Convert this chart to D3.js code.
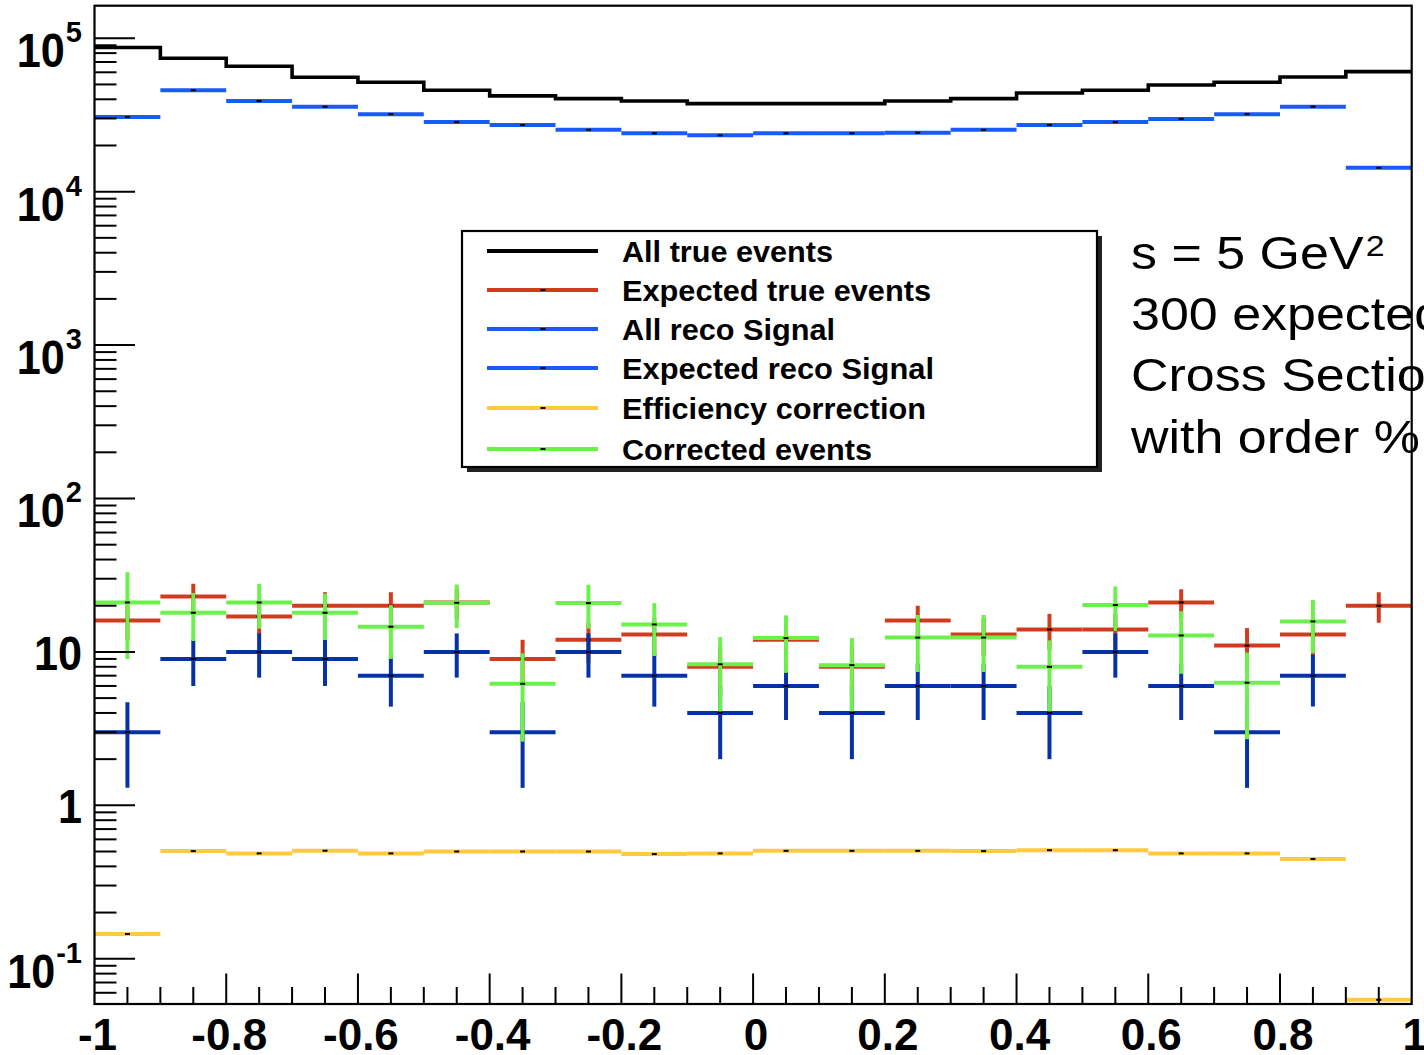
<!DOCTYPE html>
<html>
<head>
<meta charset="utf-8">
<script src="https://cdn.jsdelivr.net/npm/d3@7"></script>
<style>
  html, body { margin: 0; padding: 0; background: #fff; }
  svg { display: block; }
</style>
</head>
<body>
<svg id="chart" width="1424" height="1055"></svg>
<script>
// Bin edges in cos(theta): 20 bins of width 0.1
const binEdges = [-1.0, -0.9, -0.8, -0.7, -0.6, -0.5, -0.4, -0.3, -0.2, -0.1, 0.0,
                  0.1, 0.2, 0.3, 0.4, 0.5, 0.6, 0.7, 0.8, 0.9, 1.0];

// All true events (generator level, full sample)
const allTrue = [87000, 74000, 65700, 55700, 51700, 45800, 42100, 40400, 39000, 37500,
                 37500, 37500, 39000, 40400, 44000, 45800, 49600, 51700, 55900, 60600];

// All reconstructed signal (full sample)
const allReco = [30700, 45800, 39000, 35800, 32000, 28400, 27200, 25300, 24000, 23300,
                 24000, 24000, 24200, 25300, 27200, 28400, 29800, 32000, 35800, 14300];

// Expected true events (300 event sample)
const expTrue    = [16, 23, 17, 20, 20, 21, 9, 12, 13, 8, 12, 8, 16, 13, 14, 14, 21, 11, 13, 20];
const expTrueErr = [4.0, 4.8, 4.1, 4.5, 4.5, 4.6, 3.0, 3.5, 3.6, 2.8, 3.5, 2.8, 4.0, 3.6, 3.7, 3.7, 4.6, 3.3, 3.6, 4.5];

// Expected reconstructed signal
const expReco    = [3, 9, 10, 9, 7, 10, 3, 10, 7, 4, 6, 4, 6, 6, 4, 10, 6, 3, 7, null];
const expRecoErr = [1.7, 3.0, 3.2, 3.0, 2.6, 3.2, 1.7, 3.2, 2.6, 2.0, 2.4, 2.0, 2.4, 2.4, 2.0, 3.2, 2.4, 1.7, 2.6, null];

// Efficiency correction per bin
const efficiency = [0.145, 0.503, 0.486, 0.506, 0.486, 0.500, 0.500, 0.500, 0.481, 0.486,
                    0.505, 0.505, 0.505, 0.503, 0.510, 0.510, 0.486, 0.486, 0.447, 0.054];

// Efficiency-corrected events
const corrected    = [21.0, 18.0, 21.0, 18.0, 14.6, 20.9, 6.2, 20.8, 15.1, 8.3, 12.3, 8.2, 12.4, 12.4, 8.0, 20.2, 12.8, 6.3, 15.8, null];
const correctedErr = [12.0, 6.2, 6.8, 6.0, 5.6, 6.6, 3.6, 6.6, 5.7, 4.2, 5.0, 4.1, 5.0, 5.0, 3.9, 6.5, 5.6, 3.6, 6.0, null];

// Axis labels
const xTickValues = [-1, -0.8, -0.6, -0.4, -0.2, 0, 0.2, 0.4, 0.6, 0.8, 1];
const xTickLabels = ["-1", "-0.8", "-0.6", "-0.4", "-0.2", "0", "0.2", "0.4", "0.6", "0.8", "1"];
const yDecades   = [0.1, 1, 10, 100, 1000, 10000, 100000];
const yBaseText  = ["10", "1", "10", "10", "10", "10", "10"];
const yExpText   = ["-1", null, null, "2", "3", "4", "5"];

// Legend
const legendLabels = ["All true events", "Expected true events", "All reco Signal",
                      "Expected reco Signal", "Efficiency correction", "Corrected events"];
const legendColors = ["#000000", "#d23c1e", "#1a5af8", "#1a5af8", "#ffc940", "#6cf04c"];
const legendMarker = [false, true, true, true, true, true];

// Annotation
const noteLines = ["s = 5 GeV", "300 expected", "Cross Section", "with order %"];

const C = {
  black: "#000000", red: "#d23c1e", blue: "#1a5af8", navy: "#0632a8",
  yellow: "#ffc940", green: "#6cf04c"
};

const svg = d3.select("#chart");
const W = 1424, H = 1055;
const plot = { left: 94.5, right: 1411.7, top: 5.7, bottom: 1004 };

const x = d3.scaleLinear().domain([-1, 1]).range([plot.left, plot.right]);
const y = d3.scaleLog().domain([0.0507, 163000]).range([plot.bottom, plot.top]);

svg.append("rect").attr("width", W).attr("height", H).attr("fill", "#fff");

svg.append("clipPath").attr("id", "plotClip")
  .append("rect")
  .attr("x", plot.left).attr("y", plot.top)
  .attr("width", plot.right - plot.left).attr("height", plot.bottom - plot.top);

// Annotation text (sits under the frame line)
const note = svg.append("g")
  .attr("transform", "translate(1131,0) scale(1.13,1)")
  .attr("font-family", "'Liberation Sans', Arial, Helvetica, sans-serif")
  .attr("font-size", 46)
  .attr("fill", "#000");
const noteBase = [269, 330, 391, 453];
noteLines.forEach((t, i) => {
  const tx = note.append("text").attr("x", 0).attr("y", noteBase[i]).text(t);
  if (i === 0) {
    tx.append("tspan").attr("font-size", 30).attr("dx", 2).attr("dy", -13).text("2");
  }
});

const data = svg.append("g").attr("clip-path", "url(#plotClip)");

const bins = d3.range(allTrue.length).map(i => ({
  i, x0: binEdges[i], x1: binEdges[i + 1], xc: (binEdges[i] + binEdges[i + 1]) / 2
}));

// All true events: step outline
const stepPts = [];
bins.forEach(b => { stepPts.push([b.x0, allTrue[b.i]]); stepPts.push([b.x1, allTrue[b.i]]); });
data.append("path")
  .attr("d", d3.line().x(d => x(d[0])).y(d => y(d[1]))(stepPts))
  .attr("fill", "none").attr("stroke", C.black).attr("stroke-width", 3.6);

function drawMarkers(values) {
  data.append("g").selectAll("rect")
    .data(bins.filter(b => values[b.i] != null))
    .join("rect")
    .attr("x", b => x(b.xc) - 2.5).attr("y", b => y(values[b.i]) - 1)
    .attr("width", 5).attr("height", 2)
    .attr("fill", "#000");
}

function drawBars(values, color, width) {
  data.append("g").selectAll("line")
    .data(bins.filter(b => values[b.i] != null))
    .join("line")
    .attr("x1", b => x(b.x0)).attr("x2", b => x(b.x1))
    .attr("y1", b => y(values[b.i])).attr("y2", b => y(values[b.i]))
    .attr("stroke", color).attr("stroke-width", width);
}

function drawCrosses(values, errs, color) {
  const g = data.append("g");
  const pts = bins.filter(b => values[b.i] != null);
  g.selectAll("line.h").data(pts).join("line").attr("class", "h")
    .attr("x1", b => x(b.x0)).attr("x2", b => x(b.x1))
    .attr("y1", b => y(values[b.i])).attr("y2", b => y(values[b.i]))
    .attr("stroke", color).attr("stroke-width", 4);
  g.selectAll("line.v").data(pts).join("line").attr("class", "v")
    .attr("x1", b => x(b.xc)).attr("x2", b => x(b.xc))
    .attr("y1", b => y(values[b.i] + errs[b.i]))
    .attr("y2", b => y(Math.max(values[b.i] - errs[b.i], 0.06)))
    .attr("stroke", color).attr("stroke-width", 4);
  drawMarkers(values);
}

// All reco signal
drawBars(allReco, C.blue, 4);
drawMarkers(allReco);

// Efficiency correction
drawBars(efficiency, C.yellow, 4);
drawMarkers(efficiency);

// Expected true, expected reco, corrected
drawCrosses(expTrue, expTrueErr, C.red);
drawCrosses(expReco, expRecoErr, C.navy);
drawCrosses(corrected, correctedErr, C.green);

// Ticks
const axisG = svg.append("g").attr("stroke", "#000").attr("stroke-width", 2);
const yMinor = [];
for (let e = -2; e <= 5; e++) {
  for (let k = 2; k <= 9; k++) {
    const v = k * Math.pow(10, e);
    if (v > y.domain()[0] && v < y.domain()[1]) yMinor.push(v);
  }
}
axisG.selectAll("line.ymin").data(yMinor).join("line")
  .attr("x1", plot.left).attr("x2", plot.left + 22)
  .attr("y1", d => y(d)).attr("y2", d => y(d));
axisG.selectAll("line.ymaj").data(yDecades).join("line")
  .attr("x1", plot.left).attr("x2", plot.left + 40.5)
  .attr("y1", d => y(d)).attr("y2", d => y(d));

const xTicksAll = d3.range(1, 40).map(k => -1 + k * 0.05);
axisG.selectAll("line.xt").data(xTicksAll).join("line")
  .attr("x1", d => x(d)).attr("x2", d => x(d))
  .attr("y1", plot.bottom)
  .attr("y2", d => {
    const isMajor = Math.abs(Math.round(d / 0.2) * 0.2 - d) < 1e-6;
    return plot.bottom - (isMajor ? 30.5 : 17);
  });

// Frame
svg.append("rect")
  .attr("x", plot.left).attr("y", plot.top)
  .attr("width", plot.right - plot.left).attr("height", plot.bottom - plot.top)
  .attr("fill", "none").attr("stroke", "#000").attr("stroke-width", 2.2);

// Legend
const lg = { x: 462, y: 231, w: 635, h: 236 };
svg.append("rect").attr("x", lg.x + 5).attr("y", lg.y + 5)
  .attr("width", lg.w).attr("height", lg.h).attr("fill", "#222");
svg.append("rect").attr("x", lg.x).attr("y", lg.y)
  .attr("width", lg.w).attr("height", lg.h)
  .attr("fill", "#fff").attr("stroke", "#000").attr("stroke-width", 2.2);
const rowY = [251, 290, 329, 368, 408, 449];
const textW = [211, 309, 213, 312, 304, 250];
legendLabels.forEach((lab, i) => {
  svg.append("line")
    .attr("x1", 487).attr("x2", 598).attr("y1", rowY[i]).attr("y2", rowY[i])
    .attr("stroke", legendColors[i]).attr("stroke-width", 4);
  if (legendMarker[i]) {
    svg.append("rect").attr("x", 540.5).attr("y", rowY[i] - 1)
      .attr("width", 5).attr("height", 2).attr("fill", "#000");
  }
  svg.append("text")
    .attr("x", 622).attr("y", rowY[i] + 11)
    .attr("font-family", "'Liberation Sans', Arial, Helvetica, sans-serif")
    .attr("font-weight", "bold").attr("font-size", 29)
    .attr("textLength", textW[i]).attr("lengthAdjust", "spacingAndGlyphs")
    .attr("fill", "#000")
    .text(lab);
});

// X tick labels
svg.append("g").selectAll("text").data(xTickValues).join("text")
  .attr("x", d => x(d) + 3).attr("y", 1050)
  .attr("text-anchor", "middle")
  .attr("font-family", "'Liberation Sans', Arial, Helvetica, sans-serif")
  .attr("font-weight", "bold").attr("font-size", 44)
  .attr("fill", "#000")
  .text((d, i) => xTickLabels[i]);

// Y tick labels
const yl = svg.append("g")
  .attr("font-family", "'Liberation Sans', Arial, Helvetica, sans-serif")
  .attr("font-weight", "bold").attr("fill", "#000");
yDecades.forEach((v, i) => {
  const ty = y(v);
  const rightX = 82;
  if (yExpText[i]) {
    const ex = yl.append("text").attr("x", rightX).attr("y", ty + 4)
      .attr("text-anchor", "end").attr("font-size", 29).text(yExpText[i]);
    const ew = ex.node().getComputedTextLength();
    yl.append("g").attr("transform", `translate(${rightX - ew - 1},${ty + 29}) scale(0.9,1)`)
      .append("text").attr("text-anchor", "end").attr("font-size", 48).text(yBaseText[i]);
  } else {
    yl.append("g").attr("transform", `translate(${rightX},${ty + 18}) scale(0.9,1)`)
      .append("text").attr("text-anchor", "end").attr("font-size", 48).text(yBaseText[i]);
  }
});
</script>
</body>
</html>
